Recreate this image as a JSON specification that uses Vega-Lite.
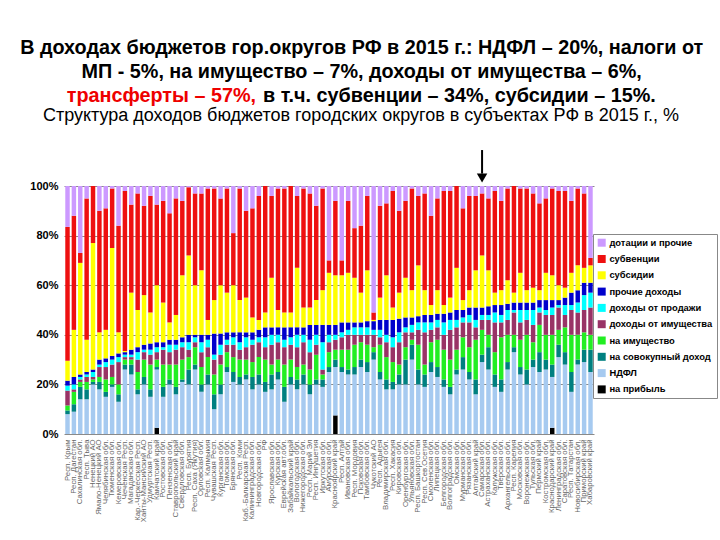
{
  "$schema": "https://vega.github.io/schema/vega-lite/v6.json",
  "background": "white",
  "padding": {"left": 20, "top": 38, "right": 0, "bottom": 0},
  "config": {"view": {"stroke": null}, "font": "Liberation Sans"},
  "title": {
    "text": ["В доходах бюджетов гор.округов РФ в 2015 г.: НДФЛ – 20%, налоги от", "МП - 5%, на имущество – 7%, доходы от имущества – 6%,"],
    "fontSize": 19.8, "fontWeight": "bold", "lineHeight": 24, "anchor": "middle", "color": "black", "offset": 4, "dx": -12
  },
  "spacing": 0,
  "vconcat": [
    {
      "spacing": 7,
      "hconcat": [
        {
          "width": 192, "height": 1,
          "data": {"values": []},
          "mark": "point",
          "title": {"text": "трансферты – 57%,", "color": "#EE0000", "anchor": "end", "fontSize": 19.8, "fontWeight": "bold", "offset": 0}
        },
        {
          "width": 440, "height": 1,
          "data": {"values": []},
          "mark": "point",
          "title": {"text": "в т.ч. субвенции – 34%, субсидии – 15%.", "color": "black", "anchor": "start", "fontSize": 19.8, "fontWeight": "bold", "offset": 0}
        }
      ]
    },
    {
      "width": 530,
      "height": 248,
      "title": {"text": "Структура доходов бюджетов городских округов в субъектах РФ в 2015 г., %", "fontSize": 18, "fontWeight": "normal", "anchor": "middle", "color": "black", "offset": 24, "dx": 32},
      "data": {"values": [
        {"region":"Респ. Крым","a":0,"b":8,"c":1.5,"d":2,"e":6,"f":2,"g":2,"h":8,"i":54,"j":16.5},
        {"region":"Респ. Дагестан","a":0,"b":9,"c":3,"d":5,"e":1,"f":2,"g":3,"h":19,"i":46,"j":12},
        {"region":"Сахалинская обл.","a":0,"b":14,"c":5,"d":2,"e":1,"f":1,"g":1,"h":45,"i":4,"j":27},
        {"region":"Респ. Тыва","a":0,"b":14,"c":4,"d":3,"e":2,"f":1,"g":1,"h":13,"i":57,"j":5},
        {"region":"Ненецкий АО","a":0,"b":20,"c":1,"d":1,"e":1,"f":2,"g":1,"h":51,"i":23,"j":0},
        {"region":"Ямало-Ненецкий АО","a":0,"b":18,"c":3,"d":2,"e":4,"f":1,"g":2,"h":11,"i":49,"j":10},
        {"region":"Челябинская обл.","a":0,"b":15,"c":2,"d":5,"e":5,"f":2,"g":1.5,"h":11.5,"i":49,"j":9},
        {"region":"Тюменская обл.","a":0,"b":19,"c":1,"d":3,"e":5,"f":2,"g":1.5,"h":43.5,"i":24,"j":1},
        {"region":"Кемеровская обл.","a":0,"b":13,"c":3,"d":4,"e":9,"f":2,"g":1.5,"h":8.5,"i":43,"j":16},
        {"region":"Чеченская Респ.","a":0,"b":26,"c":2,"d":2,"e":1,"f":1,"g":1,"h":0.5,"i":64.5,"j":2},
        {"region":"Магаданская обл.","a":0,"b":24,"c":4,"d":2,"e":1,"f":1,"g":2,"h":23,"i":35.5,"j":7.5},
        {"region":"Кар.-Черкесская Респ.","a":0,"b":16,"c":2,"d":7,"e":5,"f":3,"g":2,"h":15,"i":47,"j":3},
        {"region":"Ханты-Мансийский АО","a":0,"b":20,"c":3,"d":7,"e":3,"f":1,"g":2,"h":20,"i":36,"j":8},
        {"region":"Удмуртская Респ.","a":0,"b":15,"c":3,"d":10,"e":4,"f":2,"g":2.5,"h":12.5,"i":47,"j":4},
        {"region":"Камчатский край","a":2.5,"b":23.5,"c":1,"d":3,"e":3,"f":2,"g":2,"h":23,"i":32.5,"j":7.5},
        {"region":"Ростовская обл.","a":0,"b":15,"c":4,"d":9,"e":6,"f":1,"g":2,"h":16,"i":41,"j":6},
        {"region":"Пензенская обл.","a":0,"b":20,"c":2,"d":6,"e":5,"f":3,"g":2,"h":7,"i":44,"j":11},
        {"region":"Ставропольский край","a":0,"b":16,"c":3,"d":9,"e":6,"f":2,"g":2,"h":10,"i":47,"j":5},
        {"region":"Свердловская обл.","a":0,"b":21,"c":1,"d":8,"e":5,"f":2,"g":2,"h":25,"i":30,"j":6},
        {"region":"Респ. Бурятия","a":0,"b":20,"c":6,"d":5,"e":3,"f":3,"g":3,"h":32,"i":27.5,"j":0.5},
        {"region":"Респ. Саха (Якутия)","a":0,"b":26,"c":2,"d":7,"e":2,"f":2,"g":1,"h":20,"i":37,"j":3},
        {"region":"Орловская обл.","a":0,"b":17,"c":3,"d":7,"e":6,"f":4,"g":3,"h":26,"i":31,"j":3},
        {"region":"Респ. Калмыкия","a":0,"b":20,"c":4,"d":7,"e":4,"f":3,"g":2,"h":6,"i":53,"j":1},
        {"region":"Чувашская Респ.","a":0,"b":10,"c":6,"d":8,"e":6,"f":2,"g":8.5,"h":13.5,"i":45,"j":1},
        {"region":"Курганская обл.","a":0,"b":16,"c":4,"d":8,"e":4,"f":4,"g":4.5,"h":19.5,"i":35,"j":5},
        {"region":"Томская обл.","a":0,"b":25,"c":2,"d":6,"e":3,"f":2,"g":3,"h":16,"i":42,"j":1},
        {"region":"Брянская обл.","a":0,"b":21,"c":4,"d":6,"e":5,"f":3,"g":2,"h":19,"i":21,"j":19},
        {"region":"Респ. Коми","a":0,"b":20,"c":3,"d":7,"e":4,"f":3,"g":4,"h":13,"i":45,"j":1},
        {"region":"Каб.-Балкарская Респ.","a":0,"b":22,"c":2,"d":6,"e":5,"f":4,"g":2,"h":14,"i":35,"j":10},
        {"region":"Калининградская обл.","a":0,"b":18,"c":5,"d":6,"e":7,"f":2,"g":3,"h":6,"i":44,"j":9},
        {"region":"Новгородская обл.","a":0,"b":20,"c":4,"d":7,"e":6,"f":2,"g":3,"h":4,"i":50,"j":4},
        {"region":"РФ","a":0,"b":17,"c":4,"d":9,"e":5,"f":4,"g":4,"h":6,"i":51,"j":0},
        {"region":"Ярославская обл.","a":0,"b":18,"c":6,"d":4,"e":8,"f":4,"g":3,"h":20,"i":33,"j":4},
        {"region":"Курская обл.","a":0,"b":22,"c":3,"d":5,"e":7,"f":3,"g":3,"h":7,"i":49,"j":1},
        {"region":"Еврейская авт.обл.","a":0,"b":13,"c":6,"d":9,"e":7,"f":3,"g":5,"h":6,"i":50,"j":1},
        {"region":"Забайкальский край","a":0,"b":20,"c":3,"d":7,"e":6,"f":3,"g":4,"h":6,"i":51,"j":0},
        {"region":"Вологодская обл.","a":0,"b":18,"c":4,"d":5,"e":8,"f":5,"g":3,"h":24,"i":29,"j":4},
        {"region":"Нижегородская обл.","a":0,"b":20,"c":4,"d":4,"e":9,"f":3,"g":3,"h":8,"i":48,"j":1},
        {"region":"Респ. Марий Эл","a":0,"b":16,"c":4,"d":6,"e":7,"f":5,"g":6,"h":7,"i":46,"j":3},
        {"region":"Респ. Ингушетия","a":0,"b":20,"c":2,"d":10,"e":4,"f":4,"g":4,"h":10,"i":38,"j":8},
        {"region":"Иркутская обл.","a":0,"b":19,"c":3,"d":2,"e":2,"f":11,"g":7,"h":14,"i":41,"j":1},
        {"region":"Амурская обл.","a":0,"b":25,"c":2,"d":6,"e":4,"f":3,"g":4,"h":21,"i":5,"j":30},
        {"region":"Красноярский край","a":7.5,"b":19.5,"c":3,"d":4,"e":4,"f":2,"g":4,"h":20,"i":30,"j":6},
        {"region":"Респ. Алтай","a":0,"b":25,"c":2,"d":7,"e":5,"f":2,"g":4,"h":19,"i":6,"j":30},
        {"region":"Ивановская обл.","a":0,"b":24,"c":2,"d":8,"e":6,"f":2,"g":3,"h":20,"i":29,"j":6},
        {"region":"Респ. Мордовия","a":0,"b":24,"c":3,"d":9,"e":4,"f":3,"g":2,"h":18,"i":20,"j":17},
        {"region":"Псковская обл.","a":0,"b":27,"c":3,"d":7,"e":3,"f":3,"g":2,"h":12,"i":27,"j":16},
        {"region":"Тамбовская обл.","a":0,"b":25,"c":4,"d":7,"e":4,"f":3,"g":2.5,"h":20.5,"i":30,"j":4},
        {"region":"Чукотский АО","a":0,"b":30,"c":3,"d":2,"e":5,"f":2,"g":3.5,"h":0.5,"i":3,"j":51},
        {"region":"Респ. Адыгея","a":0,"b":22,"c":3,"d":11,"e":3,"f":3,"g":4,"h":9,"i":37,"j":8},
        {"region":"Владимирская обл.","a":0,"b":18,"c":4,"d":9,"e":6,"f":3,"g":6,"h":18,"i":29,"j":7},
        {"region":"Респ. Хакасия","a":0,"b":18,"c":3,"d":8,"e":6,"f":4,"g":7,"h":5,"i":47,"j":2},
        {"region":"Кировская обл.","a":0,"b":20,"c":4,"d":4,"e":9,"f":4,"g":5.5,"h":10.5,"i":33,"j":10},
        {"region":"Оренбургская обл.","a":0,"b":20,"c":10,"d":5,"e":6,"f":2,"g":4,"h":16,"i":31,"j":6},
        {"region":"Ульяновская обл.","a":0,"b":30,"c":6,"d":2,"e":3,"f":3,"g":3,"h":11,"i":41,"j":1},
        {"region":"Респ. Башкортостан","a":0,"b":20,"c":6,"d":10,"e":6,"f":3,"g":2.5,"h":20.5,"i":28,"j":4},
        {"region":"Респ. Сев.Осетия","a":0,"b":19,"c":5,"d":4,"e":13,"f":4,"g":3,"h":10,"i":39,"j":3},
        {"region":"Смоленская обл.","a":0,"b":25,"c":4,"d":8,"e":5,"f":3,"g":3,"h":4,"i":36,"j":12},
        {"region":"Липецкая обл.","a":0,"b":23,"c":4,"d":11,"e":5,"f":3,"g":2.5,"h":9.5,"i":37,"j":5},
        {"region":"Белгородская обл.","a":0,"b":19,"c":3,"d":12,"e":6,"f":5,"g":3.5,"h":3.5,"i":46,"j":2},
        {"region":"Волгоградская обл.","a":0,"b":16,"c":3,"d":11,"e":12,"f":4,"g":3,"h":6,"i":43,"j":2},
        {"region":"Омская обл.","a":0,"b":24,"c":2,"d":8,"e":9,"f":3,"g":4,"h":17,"i":33,"j":0},
        {"region":"Мурманская обл.","a":0,"b":26,"c":5,"d":8,"e":6,"f":2,"g":3,"h":4,"i":37,"j":9},
        {"region":"Рязанская обл.","a":0,"b":22,"c":3,"d":10,"e":10,"f":3,"g":3,"h":7,"i":38,"j":4},
        {"region":"Алтайский край","a":0,"b":16,"c":6,"d":16,"e":5,"f":3,"g":5,"h":15,"i":30,"j":4},
        {"region":"Самарская обл.","a":0,"b":29,"c":3,"d":10,"e":4,"f":2,"g":3,"h":21,"i":25,"j":3},
        {"region":"Астраханская обл.","a":0,"b":26,"c":9,"d":5,"e":6,"f":2,"g":3.5,"h":14.5,"i":29,"j":5},
        {"region":"Калужская обл.","a":0,"b":19,"c":5,"d":9,"e":12,"f":4,"g":3,"h":5,"i":41,"j":2},
        {"region":"Тверская обл.","a":0,"b":17,"c":5,"d":17,"e":6,"f":3,"g":4,"h":6,"i":36,"j":6},
        {"region":"Архангельская обл.","a":0,"b":26,"c":3,"d":11,"e":6,"f":4,"g":2.5,"h":9.5,"i":37,"j":1},
        {"region":"Респ. Карелия","a":0,"b":33,"c":2,"d":5,"e":9,"f":1,"g":3,"h":4,"i":43,"j":0},
        {"region":"Московская обл.","a":0,"b":24,"c":3,"d":11,"e":7,"f":5,"g":3,"h":12,"i":34,"j":1},
        {"region":"Воронежская обл.","a":0,"b":20,"c":6,"d":14,"e":6,"f":4,"g":3,"h":5,"i":41,"j":1},
        {"region":"Тульская обл.","a":0,"b":27,"c":3,"d":7,"e":7,"f":6,"g":3,"h":6,"i":38,"j":3},
        {"region":"Пермский край","a":0,"b":25,"c":8,"d":11,"e":5,"f":2,"g":3,"h":4,"i":35,"j":7},
        {"region":"Костромская обл.","a":0,"b":26,"c":4,"d":10,"e":8,"f":2,"g":4,"h":11,"i":30,"j":5},
        {"region":"Краснодарский край","a":2.5,"b":20.5,"c":5,"d":12,"e":8,"f":3,"g":3,"h":10,"i":35,"j":1},
        {"region":"Ленинградская обл.","a":0,"b":31,"c":5,"d":6,"e":9,"f":1,"g":2,"h":6,"i":38,"j":2},
        {"region":"Саратовская обл.","a":0,"b":28,"c":5,"d":10,"e":5,"f":4,"g":3,"h":4,"i":39,"j":2},
        {"region":"Респ. Татарстан","a":0,"b":17,"c":8,"d":15,"e":10,"f":2,"g":5,"h":8,"i":29,"j":6},
        {"region":"Новосибирская обл.","a":0,"b":28,"c":2,"d":10,"e":9,"f":4,"g":5,"h":10,"i":31,"j":1},
        {"region":"Приморский край","a":0,"b":29,"c":5,"d":7,"e":9,"f":6,"g":5,"h":6,"i":30,"j":3},
        {"region":"Хабаровский край","a":0,"b":25,"c":9,"d":6,"e":11,"f":6,"g":4,"h":7,"i":3,"j":29}
      ]},
      "layer": [
        {
          "transform": [
            {"fold": ["a","b","c","d","e","f","g","h","i","j"], "as": ["k","value"]},
            {"lookup": "k", "from": {"data": {"values": [
              {"k":"a","cat":"на прибыль"},
              {"k":"b","cat":"НДФЛ"},
              {"k":"c","cat":"на совокупный доход"},
              {"k":"d","cat":"на имущество"},
              {"k":"e","cat":"доходы от имущества"},
              {"k":"f","cat":"доходы от продажи"},
              {"k":"g","cat":"прочие доходы"},
              {"k":"h","cat":"субсидии"},
              {"k":"i","cat":"субвенции"},
              {"k":"j","cat":"дотации и прочие"}
            ]}, "key": "k", "fields": ["cat"]}}
          ],
          "mark": {"type": "bar"},
          "encoding": {
            "x": {
              "field": "region", "type": "nominal", "sort": null,
              "scale": {"paddingInner": 0.3, "paddingOuter": 0.2},
              "axis": {"title": null, "labelAngle": -90, "labelFontSize": 7.8, "labelColor": "#666666", "labelOverlap": false, "labelLimit": 120, "labelPadding": 5, "ticks": false, "domain": false}
            },
            "y": {
              "field": "value", "type": "quantitative", "stack": "zero",
              "scale": {"domain": [0, 100], "nice": false},
              "axis": {"title": null, "values": [0,10,20,30,40,50,60,70,80,90,100], "labelExpr": "datum.value + '%'", "labelFontSize": 11, "labelFontWeight": "bold", "labelColor": "black", "labelPadding": 6, "ticks": false, "domain": false, "gridColor": "#8a8a8a", "gridWidth": 1}
            },
            "order": {"field": "k", "sort": "ascending"},
            "color": {
              "field": "cat", "type": "nominal",
              "scale": {
                "domain": ["дотации и прочие","субвенции","субсидии","прочие доходы","доходы от продажи","доходы от имущества","на имущество","на совокупный доход","НДФЛ","на прибыль"],
                "range": ["#CC99FF","#EE1010","#FFFF00","#0000CC","#00FFFF","#993366","#22EE22","#008080","#A6CAF0","#000000"]
              },
              "legend": {"title": null, "orient": "none", "legendX": 529, "legendY": 128, "strokeColor": "#888888", "fillColor": "white", "padding": 4, "labelFontSize": 9.4, "labelFontWeight": "bold", "labelColor": "black", "labelOffset": 3, "symbolType": "square", "symbolSize": 64, "symbolStrokeWidth": 0, "rowPadding": 5.3, "labelLimit": 200}
            }
          }
        },
        {
          "data": {"values": [{}]},
          "mark": {"type": "rule", "strokeWidth": 2, "color": "black"},
          "encoding": {
            "x": {"datum": "Самарская обл.", "type": "nominal"},
            "y": {"datum": 105, "type": "quantitative"},
            "y2": {"datum": 114.5}
          }
        },
        {
          "data": {"values": [{}]},
          "mark": {"type": "point", "shape": "triangle-down", "filled": true, "color": "black", "size": 110, "opacity": 1},
          "encoding": {
            "x": {"datum": "Самарская обл.", "type": "nominal"},
            "y": {"datum": 103.2, "type": "quantitative"}
          }
        }
      ]
    }
  ]
}
